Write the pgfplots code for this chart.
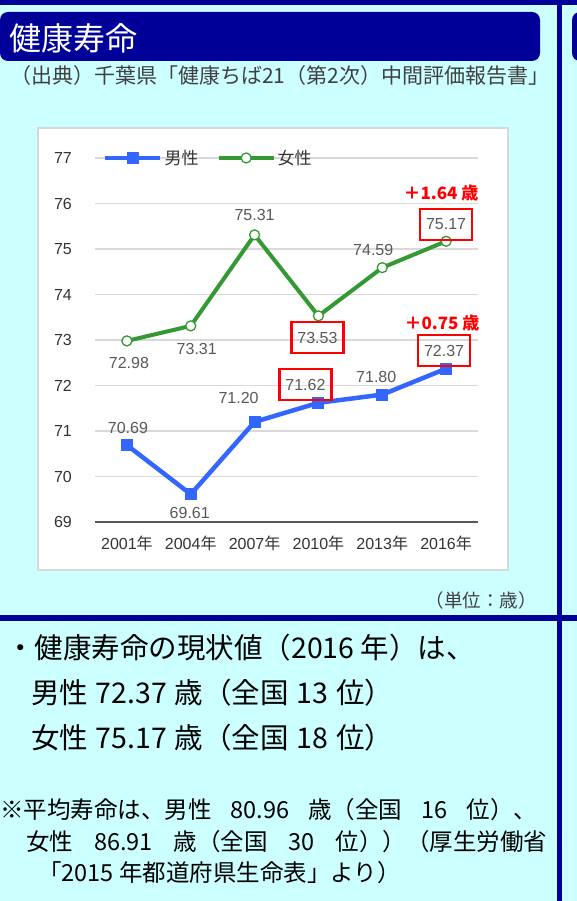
\documentclass[border=0pt]{standalone}
\usepackage{fontspec}
\setmainfont{Liberation Sans}
\newfontfamily\jp{Noto Sans CJK JP}
\usepackage{pgfplots}
\usepackage{pgfplotstable}
\pgfplotsset{compat=1.18}
\definecolor{bgcyan}{HTML}{CCFFFF}
\definecolor{navy}{HTML}{000099}
\definecolor{mblue}{HTML}{3366FF}
\definecolor{fgreen}{HTML}{339933}
\definecolor{labelgray}{HTML}{595959}
\definecolor{gridgray}{HTML}{D9D9D9}
\definecolor{tickgray}{HTML}{333333}
\definecolor{boxgray}{HTML}{D4DADA}
\definecolor{subgray}{HTML}{404040}
\newcommand{\fs}[1]{\fontsize{#1}{#1}\selectfont}

\pgfplotstableread{
x y
0 70.69
1 69.61
2 71.20
3 71.62
4 71.80
5 72.37
}\male
\pgfplotstableread{
x y
0 72.98
1 73.31
2 75.31
3 73.53
4 74.59
5 75.17
}\female
\pgfplotstableread{
x y dx dy bo lab
0 70.69 1 17 0 70.69
1 69.61 -1 -19 0 69.61
2 71.20 -16 24 0 71.20
3 71.62 -13 18 1 71.62
4 71.80 -6 18 0 71.80
5 72.37 -2 18 1 72.37
}\malelab
\pgfplotstableread{
x y dx dy bo lab
0 72.98 2 -22 0 72.98
1 73.31 6 -23 0 73.31
2 75.31 0 20 0 75.31
3 73.53 -1 -22 1 73.53
4 74.59 -9 18 0 74.59
5 75.17 0 17 1 75.17
}\femalelab

\begin{document}
\begin{tikzpicture}[x=1pt,y=1pt]
\fill[bgcyan] (0,0) rectangle (577,-901);
\useasboundingbox (0,0) rectangle (577,-901);
\begin{scope}
\clip (0,0) rectangle (577,-901);
\fill[navy] (0,0) rectangle (577,-5);
\fill[navy, rounded corners=8pt] (0,-12) rectangle (540,-61);
\fill[navy, rounded corners=8pt] (572,-12) rectangle (610,-61);
\node[anchor=west, text=white, inner sep=0pt] at (9,-38) {\jp\fs{32}健康寿命};
\node[anchor=west, text=subgray, inner sep=0pt] at (10,-76) {\jp\fs{21}（出典）千葉県「健康ちば21（第2次）中間評価報告書」};
\filldraw[fill=white, draw=boxgray, line width=2.5pt] (38,-128) rectangle (508,-570);
\node[anchor=east, text=subgray, inner sep=0pt] at (537,-600) {\jp\fs{18.5}（単位：歳）};
\fill[navy] (0,-615) rectangle (577,-621);
\fill[navy] (557,0) rectangle (562,-901);
\node[anchor=west, inner sep=0pt] at (6,-648) {\jp\fs{28.5}・健康寿命の現状値（2016 年）は、};
\node[anchor=west, inner sep=0pt] at (31,-693) {\jp\fs{28.5}\makebox[362pt][s]{男性 72.37 歳（全国 13 位）}};
\node[anchor=west, inner sep=0pt] at (31,-738) {\jp\fs{28.5}\makebox[362pt][s]{女性 75.17 歳（全国 18 位）}};
\node[anchor=west, inner sep=0pt] at (0,-810) {\jp\fs{23.5}\makebox[537pt][s]{※平均寿命は、男性 80.96 歳（全国 16 位）、}};
\node[anchor=west, inner sep=0pt] at (26,-842) {\jp\fs{23.5}\makebox[521pt][s]{女性 86.91 歳（全国 30 位））（厚生労働省}};
\node[anchor=west, inner sep=0pt] at (38,-873) {\jp\fs{23.5}「2015 年都道府県生命表」より）};

\begin{axis}[
  at={(95pt,-522pt)}, anchor=south west,
  scale only axis, width=383pt, height=364pt,
  xmin=-0.5, xmax=5.5, ymin=69, ymax=77,
  xtick={0,1,2,3,4,5},
  xticklabels={2001{\jp 年},2004{\jp 年},2007{\jp 年},2010{\jp 年},2013{\jp 年},2016{\jp 年}},
  ytick={69,70,71,72,73,74,75,76,77},
  /pgf/number format/assume math mode=true,
  ymajorgrids, grid style={draw=gridgray, line width=1.2pt},
  axis lines*=left,
  y axis line style={draw=none},
  x axis line style={draw=labelgray, line width=1.5pt},
  major tick length=0pt,
  yticklabel style={font=\fs{16}, text=tickgray, inner sep=0pt, anchor=east, xshift=-23pt},
  xticklabel style={font=\fs{16}, text=tickgray, inner sep=0pt, anchor=center, yshift=-21pt},
  clip=false,
  legend columns=2,
  legend style={at={(0,1)}, anchor=west, xshift=8pt, draw=none, fill=none, inner sep=0pt,
    font=\jp\fs{17}, text=tickgray,
    /tikz/every even column/.append style={column sep=16pt}},
  legend image code/.code={\draw[#1, mark repeat=2, mark phase=2] plot coordinates {(0pt,0pt) (27.5pt,0pt) (55pt,0pt)};},
]
\addplot[color=mblue, line width=4.5pt, mark=square*, mark size=5.5pt, mark options={fill=mblue, draw=mblue, line width=0pt}] table[x=x,y=y] {\male};
\addlegendentry{男性}
\addplot[color=fgreen, line width=4pt, mark=*, mark size=5pt, mark options={fill=white, draw=fgreen, line width=1.3pt}] table[x=x,y=y] {\female};
\addlegendentry{女性}
\addplot[forget plot, draw=none, mark=*, mark size=0pt, mark options={draw=none, fill=none},
  nodes near coords, point meta=explicit symbolic,
  visualization depends on={\thisrow{dx} \as \dx},
  visualization depends on={\thisrow{dy} \as \dy},
  visualization depends on={\thisrow{bo} \as \bo},
  every node near coord/.append style={font=\fs{16}, text=labelgray, anchor=center, xshift=\dx pt, yshift=\dy pt,
    draw=red, draw opacity=\bo, line width=2.2pt, fill=none, minimum width=52pt, minimum height=31pt, inner sep=0pt}]
  table[x=x,y=y,meta=lab] {\malelab};
\addplot[forget plot, draw=none, mark=*, mark size=0pt, mark options={draw=none, fill=none},
  nodes near coords, point meta=explicit symbolic,
  visualization depends on={\thisrow{dx} \as \dx},
  visualization depends on={\thisrow{dy} \as \dy},
  visualization depends on={\thisrow{bo} \as \bo},
  every node near coord/.append style={font=\fs{16}, text=labelgray, anchor=center, xshift=\dx pt, yshift=\dy pt,
    draw=red, draw opacity=\bo, line width=2.2pt, fill=none, minimum width=52pt, minimum height=31pt, inner sep=0pt}]
  table[x=x,y=y,meta=lab] {\femalelab};
\end{axis}
\node[text=red, inner sep=0pt] at (441,-193) {\jp\bfseries\fs{17}＋1.64 歳};
\node[text=red, inner sep=0pt] at (442,-323) {\jp\bfseries\fs{17}＋0.75 歳};
\end{scope}
\end{tikzpicture}
\end{document}
